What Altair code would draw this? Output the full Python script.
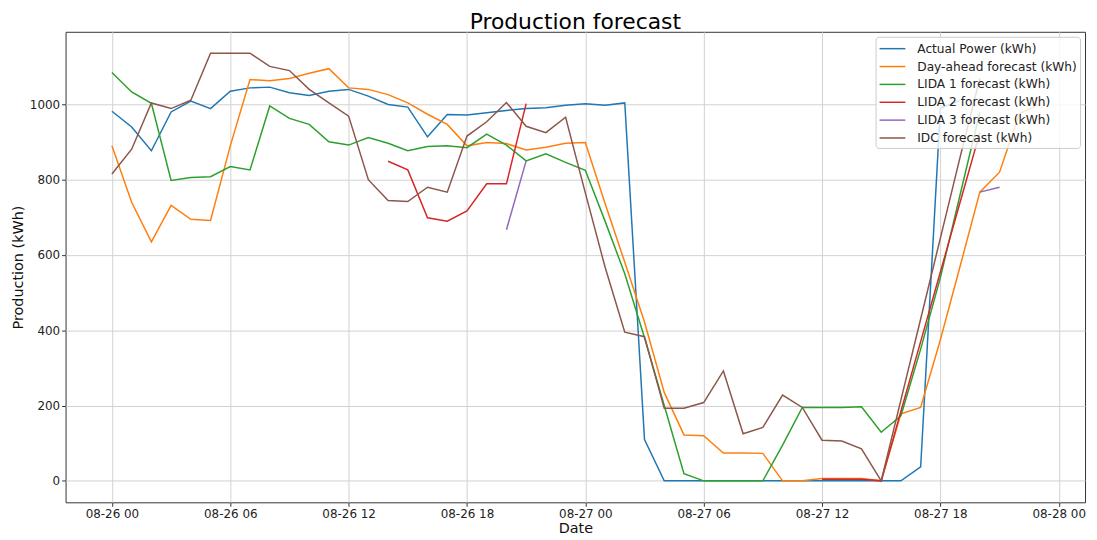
import altair as alt
import pandas as pd

# Hours after 2023-08-26 00:00 (hourly index 0..47); None = no value
hours = list(range(48))

actual = [982, 940, 877, 980, 1009, 989, 1035, 1044, 1046, 1031, 1024, 1035, 1040, 1022, 1000, 993,
          914, 973, 972, 978, 984, 989, 991, 998, 1002, 998, 1004, 110, 0, 0, 0, 0,
          0, 0, 0, 0, 0, 0, 0, 0, 0, 37, 990, 1010, None, None, None, None]

day_ahead = [890, 740, 635, 732, 695, 692, 890, 1066, 1063, 1069, 1083, 1095, 1044, 1040, 1026, 1004,
             974, 947, 890, 899, 896, 879, 886, 897, 899, 737, 581, 422, 235, 122, 120, 74,
             74, 73, 0, 0, 6, 6, 6, 0, 178, 195, 375, 570, 767, 820, 975, 1000]

lida1 = [1085, 1033, 1003, 798, 806, 808, 835, 826, 996, 963, 947, 901, 892, 912, 897, 877,
         888, 890, 885, 921, 892, 850, 869, 846, 825, 690, 550, 380, 200, 19, 0, 0,
         0, 0, 95, 195, 195, 195, 197, 129, 173, 350, 540, 760, 980, None, None, None]

lida2 = [None, None, None, None, None, None, None, None, None, None, None, None, None, None, 849, 826,
         699, 690, 717, 789, 789, 1002, None, None, None, None, None, None, None, None, None, None,
         None, None, None, None, 4, 4, 4, 0, 185, 370, 555, 740, 925, None, None, None]

lida3 = [None, None, None, None, None, None, None, None, None, None, None, None, None, None, None, None,
         None, None, None, None, 667, 850, None, None, None, None, None, None, None, None, None, None,
         None, None, None, None, None, None, None, None, None, None, None, None, 767, 780, None, None]

idc = [815, 881, 1004, 989, 1011, 1136, 1136, 1136, 1101, 1090, 1040, 1004, 969, 800, 745, 742,
       780, 767, 916, 954, 1005, 942, 925, 966, 765, 568, 395, 383, 193, 193, 208, 292,
       125, 142, 228, 195, 108, 106, 85, 0, 215, 430, 645, 860, 1070, None, None, None]

series_names = ["Actual Power (kWh)", "Day-ahead forecast (kWh)", "LIDA 1 forecast (kWh)",
                "LIDA 2 forecast (kWh)", "LIDA 3 forecast (kWh)", "IDC forecast (kWh)"]
series_values = [actual, day_ahead, lida1, lida2, lida3, idc]
colors = ["#1f77b4", "#ff7f0e", "#2ca02c", "#d62728", "#9467bd", "#8c564b"]

title_text = "Production forecast"

rows = []
for name, vals in zip(series_names, series_values):
    seg = 0
    prev_none = True
    for h, v in zip(hours, vals):
        if v is None:
            prev_none = True
            continue
        if prev_none:
            seg += 1
            prev_none = False
        t = pd.Timestamp("2023-08-26 00:00") + pd.Timedelta(hours=h)
        rows.append({"t": t.strftime("%Y-%m-%dT%H:%M:%S"), "value": v,
                     "series": name, "seg": f"{name}-{seg}"})
df = pd.DataFrame(rows)

tick_vals = [alt.DateTime(year=2023, month=8, date=26 + (h // 24), hours=h % 24) for h in range(0, 49, 6)]

font = "DejaVu Sans"
W, H = 1027, 474

lines = alt.Chart(df).mark_line(strokeWidth=1.5, clip=True).encode(
    x=alt.X("t:T", title="Date",
            scale=alt.Scale(domain=[alt.DateTime(year=2023, month=8, date=25, hours=21, minutes=39),
                                    alt.DateTime(year=2023, month=8, date=28, hours=1, minutes=20)],
                            nice=False),
            axis=alt.Axis(values=tick_vals, format="%m-%d %H", labelFlush=False,
                          titlePadding=2, labelPadding=2)),
    y=alt.Y("value:Q", title="Production (kWh)",
            scale=alt.Scale(domain=[-57, 1193], nice=False, zero=False),
            axis=alt.Axis(values=[0, 200, 400, 600, 800, 1000], format="d",
                          titlePadding=4, labelPadding=2)),
    color=alt.Color("series:N", sort=series_names,
                    scale=alt.Scale(domain=series_names, range=colors),
                    legend=alt.Legend(title=None, orient="top-right", offset=5,
                                      fillColor="rgba(255,255,255,0.8)", strokeColor="#cccccc",
                                      cornerRadius=3, padding=3,
                                      symbolType="M-1,0H2.25", symbolSize=256,
                                      symbolStrokeWidth=1.5, labelOffset=21, rowPadding=2,
                                      labelFont=font, labelFontSize=12.3, labelColor="#222",
                                      labelLimit=300)),
    detail="seg:N",
    order="t:T",
)

title = alt.Chart(pd.DataFrame({"label": [title_text]})).mark_text(
    font=font, fontSize=22, color="#000", align="center", baseline="alphabetic"
).encode(
    text="label:N",
    x=alt.value(W / 2),
    y=alt.value(-3),
)

chart = alt.layer(lines, title).properties(
    width=W, height=H,
    autosize=alt.AutoSizeParams(type="none"),
    padding={"left": 58, "top": 22, "right": 4, "bottom": 36},
).configure_view(
    stroke="#333", strokeWidth=1
).configure_axis(
    grid=True, gridColor="#d2d2d2", gridWidth=1, domain=False,
    tickColor="#333", tickSize=4, tickWidth=1,
    labelFont=font, labelFontSize=12, labelColor="#222",
    titleFont=font, titleFontSize=14.5, titleFontWeight="normal", titleColor="#111"
)

chart.save("out.html", embed_options={"renderer": "svg", "actions": False})
